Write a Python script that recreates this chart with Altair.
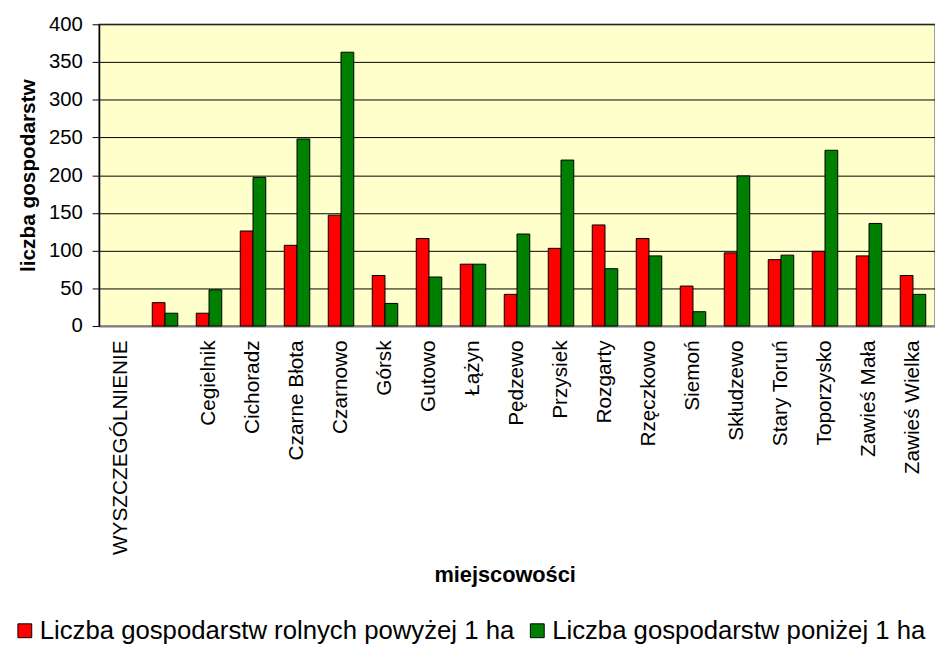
import altair as alt
import pandas as pd

categories = ["WYSZCZEGÓLNIENIE", " ", "Cegielnik", "Cichoradz", "Czarne Błota", "Czarnowo",
              "Górsk", "Gutowo", "Łążyn", "Pędzewo", "Przysiek", "Rozgarty", "Rzęczkowo",
              "Siemoń", "Skłudzewo", "Stary Toruń", "Toporzysko", "Zawieś Mała", "Zawieś Wielka"]
above_1ha = [None, 31, 17, 126, 107, 147, 67, 116, 82, 42, 103, 134, 116, 53, 97, 88, 99, 93, 67]
below_1ha = [None, 17, 48, 197, 248, 363, 30, 65, 82, 122, 220, 76, 93, 19, 199, 94, 233, 136, 42]
series = ["Liczba gospodarstw rolnych powyżej 1 ha", "Liczba gospodarstw poniżej 1 ha"]
colors = ["#FF0000", "#008000"]
y_ticks = [0, 50, 100, 150, 200, 250, 300, 350, 400]

rows = []
for c, a, b in zip(categories, above_1ha, below_1ha):
    if a is not None:
        rows.append({"miejsc": c, "seria": series[0], "val": a})
    if b is not None:
        rows.append({"miejsc": c, "seria": series[1], "val": b})
df = pd.DataFrame(rows)

FONT = "Liberation Sans"

chart = alt.Chart(df).mark_bar(stroke="black", strokeWidth=1).encode(
    x=alt.X("miejsc:N", sort=categories,
            scale=alt.Scale(domain=categories, paddingInner=0.42, paddingOuter=0.21),
            axis=alt.Axis(title="miejscowości", labelAngle=-90, ticks=False, labelPadding=14,
                          labelFont=FONT, labelFontSize=21, labelColor="black",
                          titleFont=FONT, titleFontSize=22, titleFontWeight="bold", titleColor="black",
                          titleX=410, titleY=251, titleBaseline="middle",
                          domainColor="#808080", domainWidth=2, grid=False, labelLimit=400)),
    xOffset=alt.XOffset("seria:N", sort=series, scale=alt.Scale(domain=series)),
    y=alt.Y("val:Q", scale=alt.Scale(domain=[0, 400]),
            axis=alt.Axis(title="liczba gospodarstw", values=y_ticks, tickSize=7, tickColor="black",
                          labelPadding=10, labelFont=FONT, labelFontSize=20.5, labelColor="black",
                          titleFont=FONT, titleFontSize=21, titleFontWeight="bold", titleColor="black",
                          titlePadding=10, domainColor="black", domainWidth=1.5,
                          grid=True, gridColor="black", gridWidth=1)),
    color=alt.Color("seria:N", sort=series, scale=alt.Scale(domain=series, range=colors),
                    legend=alt.Legend(title=None, orient="none", legendX=-88, legendY=600,
                                      padding=0, offset=0,
                                      direction="horizontal", labelFont=FONT, labelFontSize=26,
                                      labelColor="black", symbolType="square", symbolSize=196,
                                      symbolStrokeColor="black", symbolStrokeWidth=1,
                                      labelOffset=2, columnPadding=10, labelLimit=600)),
).properties(
    width=845, height=305,
    padding={"left": 4, "top": 3, "right": 0, "bottom": 4},
).configure_view(
    fill="#FFFFCC", stroke="#808080", strokeWidth=1.5
)

chart.save("out.html", embed_options={"renderer": "svg", "actions": False})
